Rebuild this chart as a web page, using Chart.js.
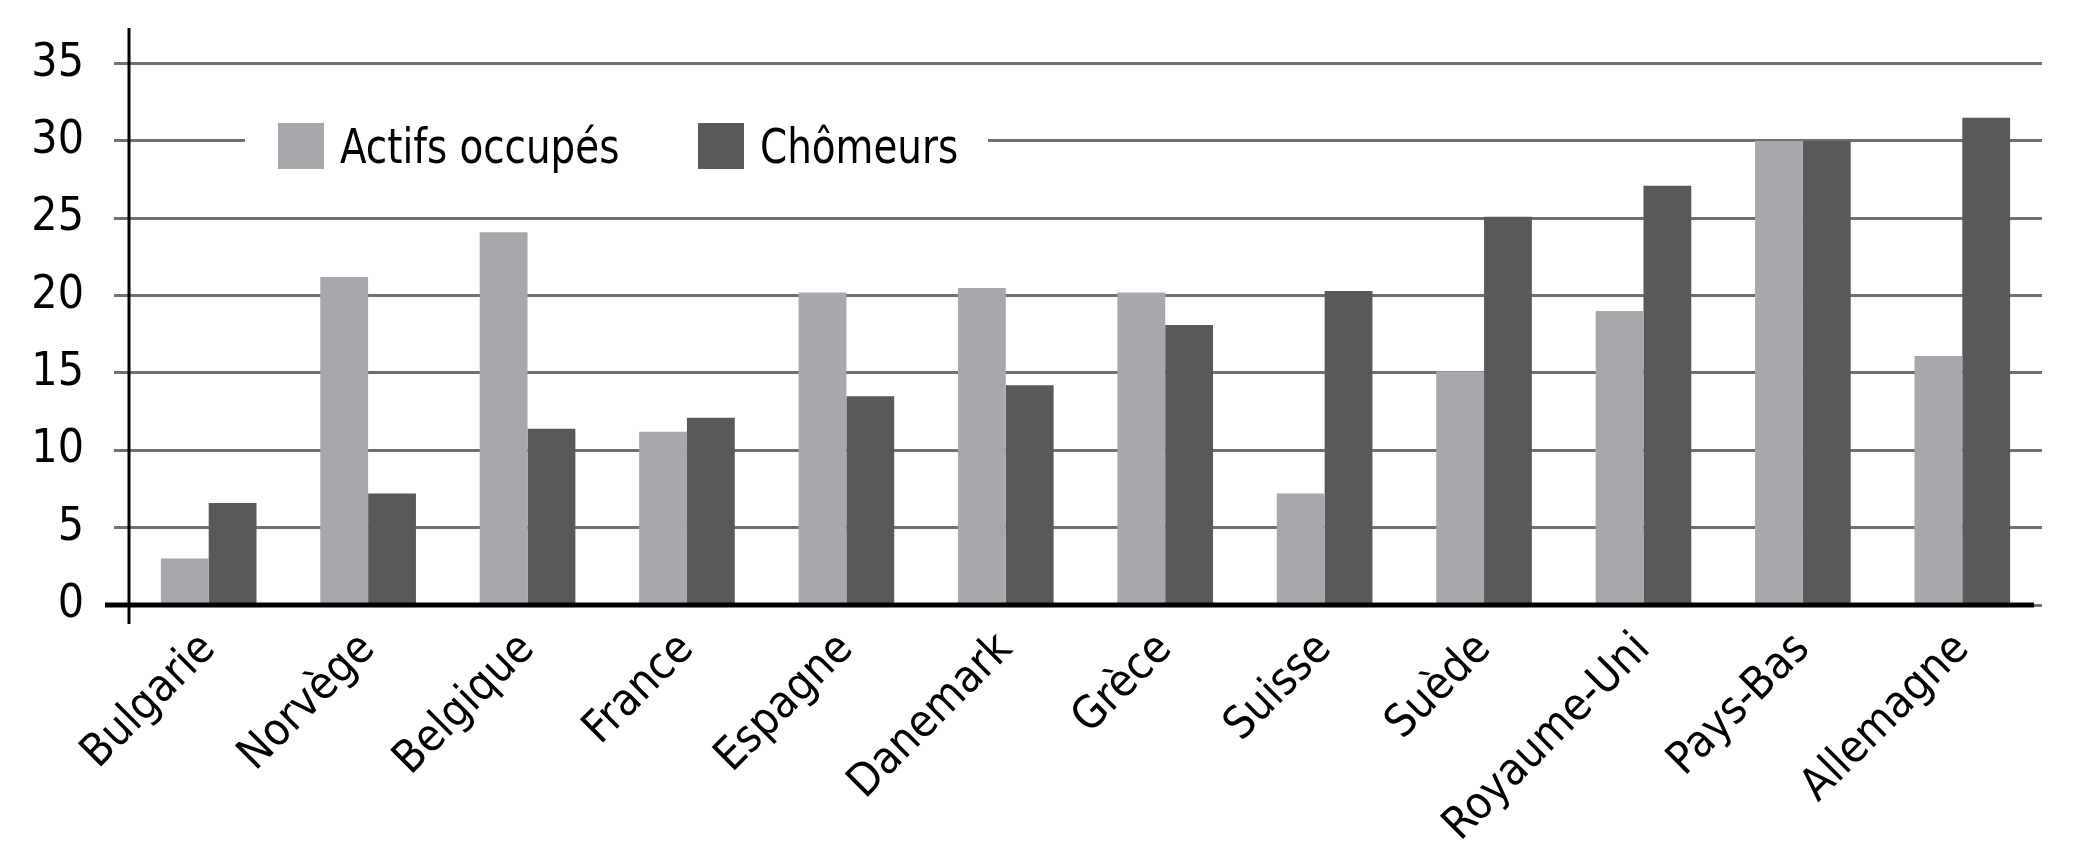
<!DOCTYPE html>
<html>
<head>
<meta charset="utf-8">
<script src="https://cdn.jsdelivr.net/npm/chart.js@4/dist/chart.umd.min.js"></script>
<style>
  html, body { margin: 0; padding: 0; background: #fff; }
  #wrap { position: relative; width: 2080px; height: 864px; }
  #legend {
    position: absolute; left: 245px; top: 115px; width: 743px; height: 52px;
    background: #fff;
    font-family: "DejaVu Sans Condensed", "Liberation Sans Narrow", sans-serif;
    font-size: 48px; color: #000;
  }
  #legend .item { display: flex; align-items: center; position: absolute; top: 3px; }
  #legend .box { width: 46px; height: 46px; margin-right: 16px; flex: none; }
  #legend .txt { display: inline-block; transform-origin: left center; transform: scaleX(0.9); white-space: nowrap; }
</style>
</head>
<body>
<div id="wrap">
  <canvas id="chart" width="2080" height="864"></canvas>
  <div id="legend"></div>
</div>
<script>
const categories = ['Bulgarie', 'Norvège', 'Belgique', 'France', 'Espagne', 'Danemark',
  'Grèce', 'Suisse', 'Suède', 'Royaume-Uni', 'Pays-Bas', 'Allemagne'];
const actifsOccupes = [3.0, 21.2, 24.1, 11.2, 20.2, 20.5, 20.2, 7.2, 15.1, 19.0, 30.0, 16.1];
const chomeurs = [6.6, 7.2, 11.4, 12.1, 13.5, 14.2, 18.1, 20.3, 25.1, 27.1, 30.0, 31.5];
const yTicks = [0, 5, 10, 15, 20, 25, 30, 35];

const FONT = '"DejaVu Sans Condensed", "Liberation Sans Narrow", sans-serif';

// black axis lines, drawn over the grid
const axisLines = {
  id: 'axisLines',
  afterDatasetsDraw(chart) {
    const { ctx, chartArea } = chart;
    const y0 = chart.scales.y.getPixelForValue(0);
    ctx.save();
    ctx.strokeStyle = '#000';
    ctx.lineWidth = 3;
    ctx.beginPath();
    ctx.moveTo(chartArea.left, chartArea.top);
    ctx.lineTo(chartArea.left, y0 + 19);
    ctx.stroke();
    ctx.lineWidth = 5;
    ctx.beginPath();
    ctx.moveTo(chartArea.left - 24, y0);
    ctx.lineTo(chartArea.right - 8, y0);
    ctx.stroke();
    ctx.restore();
  }
};

const chart = new Chart(document.getElementById('chart'), {
  type: 'bar',
  data: {
    labels: categories,
    datasets: [
      { label: 'Actifs occupés', data: actifsOccupes, backgroundColor: '#a7a8ab' },
      { label: 'Chômeurs', data: chomeurs, backgroundColor: '#58595b' }
    ]
  },
  options: {
    responsive: false,
    animation: false,
    devicePixelRatio: 1,
    layout: { padding: { top: 28, right: 38, left: 0, bottom: 0 } },
    datasets: { bar: { categoryPercentage: 0.6, barPercentage: 1.0 } },
    plugins: { legend: { display: false }, tooltip: { enabled: false } },
    scales: {
      x: {
        grid: { display: false, drawTicks: false },
        border: { display: false },
        ticks: {
          color: '#000', font: { family: FONT, size: 45 },
          minRotation: 45, maxRotation: 45, autoSkip: false, padding: 18
        },
        afterFit: (axis) => { axis.height = 259; }
      },
      y: {
        min: 0, max: 37.3,
        afterBuildTicks: (axis) => { axis.ticks = yTicks.map(v => ({ value: v })); },
        grid: { color: '#6f7073', lineWidth: 3, tickLength: 15 },
        border: { display: false },
        ticks: { color: '#000', font: { family: FONT, size: 46 }, padding: 30 },
        afterFit: (axis) => { axis.width = 129; axis.paddingTop = 0; axis.paddingBottom = 0; }
      }
    }
  },
  plugins: [axisLines]
});

// legend sits on the 30 gridline, white background hides the line behind it
const legend = document.getElementById('legend');
const legendX = [33, 453];
chart.data.datasets.forEach((ds, i) => {
  const item = document.createElement('div');
  item.className = 'item';
  item.style.left = legendX[i] + 'px';
  const box = document.createElement('span');
  box.className = 'box';
  box.style.background = ds.backgroundColor;
  const txt = document.createElement('span');
  txt.className = 'txt';
  txt.textContent = ds.label;
  item.appendChild(box);
  item.appendChild(txt);
  legend.appendChild(item);
});
</script>
</body>
</html>
